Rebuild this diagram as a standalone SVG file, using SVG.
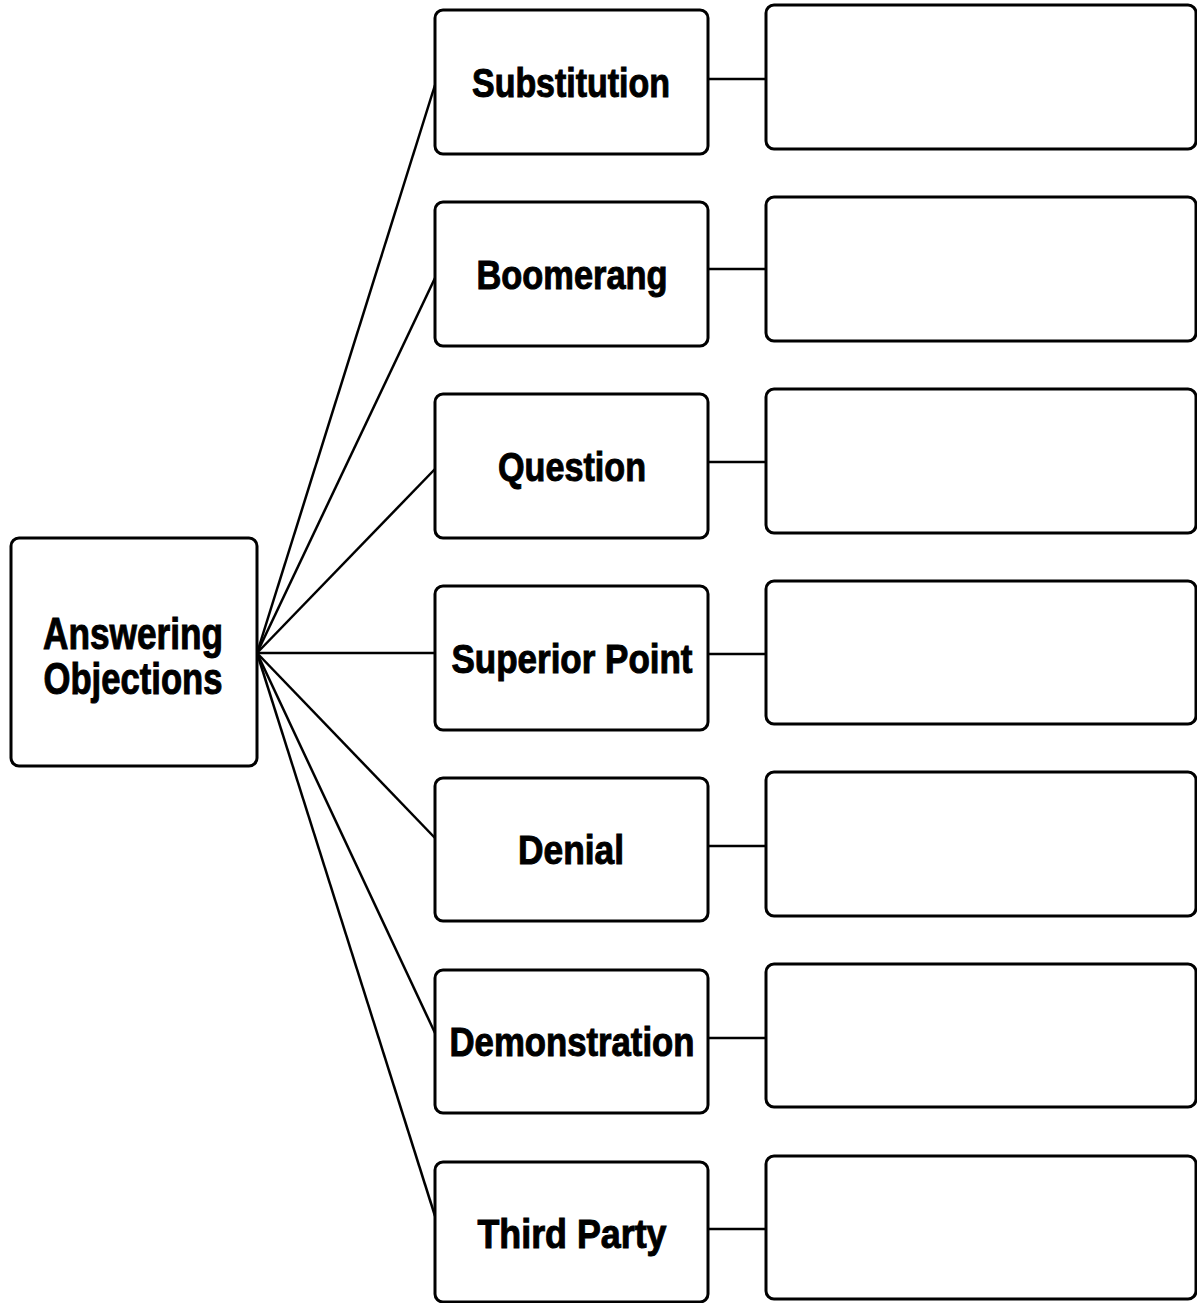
<svg xmlns="http://www.w3.org/2000/svg" width="1197" height="1303" viewBox="0 0 1197 1303">
<style>
.box{fill:#fff;stroke:#000;stroke-width:3}
.lbl{font-family:"Liberation Sans Narrow","Arial Narrow","Liberation Sans",sans-serif;font-weight:bold;font-size:40px;text-anchor:middle;fill:#000;stroke:#000;stroke-width:1}
.root{font-size:44px}
.con{stroke:#000;stroke-width:2.5;fill:none}
</style>
<rect width="1197" height="1303" fill="#fff"/>
<g id="connectors">
<line class="con" x1="257" y1="653" x2="435" y2="85"/>
<line class="con" x1="257" y1="653" x2="435" y2="278"/>
<line class="con" x1="257" y1="653" x2="435" y2="469"/>
<line class="con" x1="257" y1="653" x2="435" y2="653"/>
<line class="con" x1="257" y1="653" x2="435" y2="838"/>
<line class="con" x1="257" y1="653" x2="435" y2="1033"/>
<line class="con" x1="257" y1="653" x2="435" y2="1216"/>
<line class="con" x1="708" y1="79" x2="766" y2="79"/>
<line class="con" x1="708" y1="269" x2="766" y2="269"/>
<line class="con" x1="708" y1="462" x2="766" y2="462"/>
<line class="con" x1="708" y1="654" x2="766" y2="654"/>
<line class="con" x1="708" y1="846" x2="766" y2="846"/>
<line class="con" x1="708" y1="1038" x2="766" y2="1038"/>
<line class="con" x1="708" y1="1229" x2="766" y2="1229"/>
</g>
<g id="root">
<rect class="box" x="11" y="538" width="246" height="228" rx="8"/>
<text class="lbl root" x="133" y="649" textLength="180" lengthAdjust="spacingAndGlyphs">Answering</text>
<text class="lbl root" x="133" y="694" textLength="179" lengthAdjust="spacingAndGlyphs">Objections</text>
</g>
<g id="substitution"><rect class="box" x="435" y="10" width="273" height="144" rx="8"/><text class="lbl" x="571" y="97" textLength="198" lengthAdjust="spacingAndGlyphs">Substitution</text></g>
<g id="boomerang"><rect class="box" x="435" y="202" width="273" height="144" rx="8"/><text class="lbl" x="572" y="289" textLength="191" lengthAdjust="spacingAndGlyphs">Boomerang</text></g>
<g id="question"><rect class="box" x="435" y="394" width="273" height="144" rx="8"/><text class="lbl" x="572" y="481" textLength="148" lengthAdjust="spacingAndGlyphs">Question</text></g>
<g id="superior-point"><rect class="box" x="435" y="586" width="273" height="144" rx="8"/><text class="lbl" x="572" y="673" textLength="241" lengthAdjust="spacingAndGlyphs">Superior Point</text></g>
<g id="denial"><rect class="box" x="435" y="778" width="273" height="143" rx="8"/><text class="lbl" x="571" y="864" textLength="106" lengthAdjust="spacingAndGlyphs">Denial</text></g>
<g id="demonstration"><rect class="box" x="435" y="970" width="273" height="143" rx="8"/><text class="lbl" x="572" y="1056" textLength="245" lengthAdjust="spacingAndGlyphs">Demonstration</text></g>
<g id="third-party"><rect class="box" x="435" y="1162" width="273" height="140" rx="8"/><text class="lbl" x="572" y="1248" textLength="189" lengthAdjust="spacingAndGlyphs">Third Party</text></g>
<g id="box-1"><rect class="box" x="766" y="5" width="430" height="144" rx="8"/></g>
<g id="box-2"><rect class="box" x="766" y="197" width="430" height="144" rx="8"/></g>
<g id="box-3"><rect class="box" x="766" y="389" width="430" height="144" rx="8"/></g>
<g id="box-4"><rect class="box" x="766" y="581" width="430" height="143" rx="8"/></g>
<g id="box-5"><rect class="box" x="766" y="772" width="430" height="144" rx="8"/></g>
<g id="box-6"><rect class="box" x="766" y="964" width="430" height="143" rx="8"/></g>
<g id="box-7"><rect class="box" x="766" y="1156" width="430" height="143" rx="8"/></g>
</svg>
